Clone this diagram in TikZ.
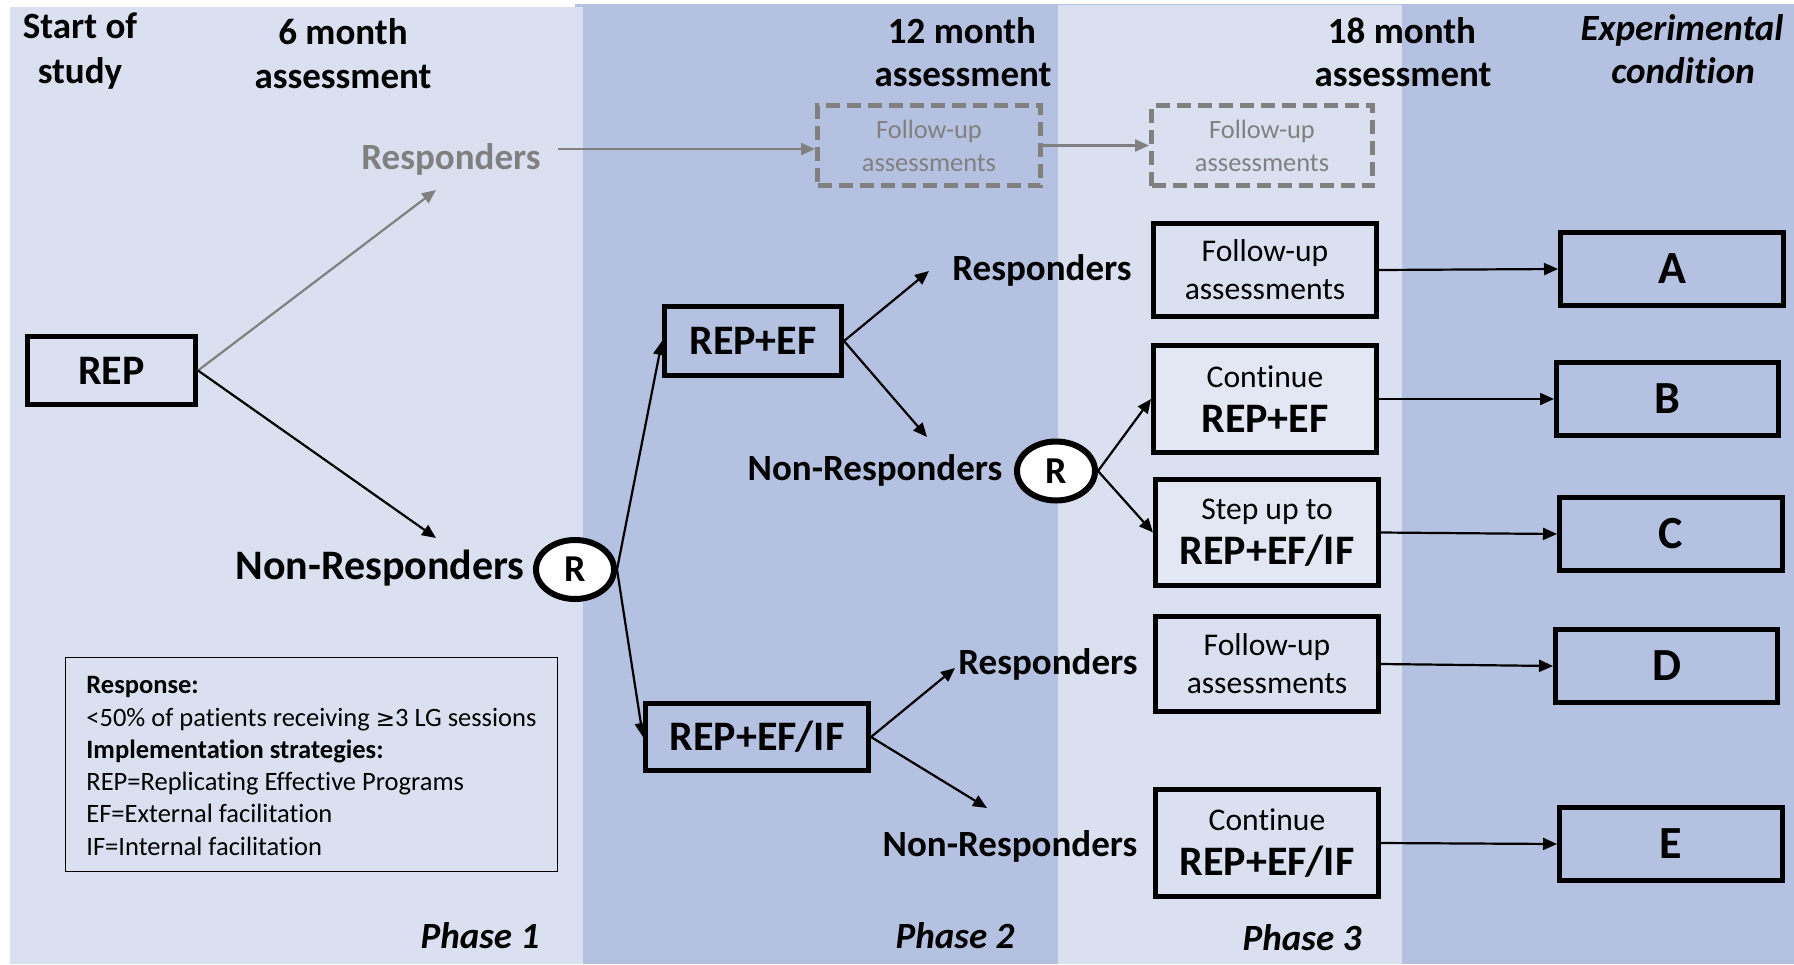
\documentclass[tikz,border=0pt]{standalone}
\usepackage{fontspec}
\setmainfont{Carlito}[Ligatures={NoCommon}]
\newfontfamily\symfont{DejaVu Sans}
\usetikzlibrary{shapes.geometric,arrows.meta}
\definecolor{lightbg}{RGB}{218,224,240}
\definecolor{darkbg}{RGB}{180,193,224}
\definecolor{boxlight}{RGB}{227,231,244}
\definecolor{greyc}{RGB}{128,128,128}
\newcommand{\fsz}[2]{\fontsize{#1}{#2}\selectfont}
\begin{document}
\begin{tikzpicture}[x=0.5pt,y=-0.5pt,
  box/.style={draw=black,line width=2.5pt,rectangle,inner sep=0pt,align=center},
  bigbox/.style={box,font=\bfseries\fsz{21}{24}},
  letterbox/.style={box,minimum width=111.5pt,minimum height=36.5pt,font=\bfseries\fsz{23}{26}},
  p3box/.style={box,minimum width=111.5pt,font=\fsz{15.8}{19}},
  dashbox/.style={draw=greyc,line width=2.5pt,dash pattern=on 7pt off 3.5pt,rectangle,inner sep=0pt,align=center,text=greyc,font=\fsz{13.2}{16.5},minimum width=111.5pt,minimum height=40pt},
  rnode/.style={ellipse,draw=black,line width=3pt,fill=white,minimum width=39pt,minimum height=29.5pt,inner sep=0pt,font=\bfseries\fsz{19}{22}},
  lbl/.style={anchor=base,font=\bfseries\fsz{18.5}{22},inner sep=0pt},
  hdr/.style={anchor=base,font=\bfseries\fsz{18.5}{22},inner sep=0pt},
  phase/.style={anchor=base,font=\bfseries\itshape\fsz{18.5}{22},inner sep=0pt},
  conn/.style={draw=black,line width=1.1pt,-{Triangle[length=7pt,width=6pt]}},
  gconn/.style={draw=greyc,line width=1.1pt,-{Triangle[length=7pt,width=6pt]}},
]
\useasboundingbox (0,0) rectangle (1794,964);
\fill[white] (0,0) rectangle (1794,964);
\fill[darkbg] (575,4) rectangle (1794,964);
\fill[lightbg] (10,7) rectangle (583,964);
\fill[lightbg] (1058,5) rectangle (1402,964);

% headers
\node[hdr] (h1a) at (80,38) {Start of};
\node[hdr] (h1b) at (80,83) {study};
\node[hdr] (h2a) at (343,44) {6 month};
\node[hdr] (h2b) at (343,88) {assessment};
\node[hdr] (h3a) at (962,43) {12 month};
\node[hdr] (h3b) at (963,86) {assessment};
\node[hdr] (h4a) at (1402,43) {18 month};
\node[hdr] (h4b) at (1403,86) {assessment};
\node[phase] (h5a) at (1682,40) {Experimental};
\node[phase] (h5b) at (1683,83) {condition};

% phases
\node[phase] (ph1) at (480,948) {Phase 1};
\node[phase] (ph2) at (955,948) {Phase 2};
\node[phase] (ph3) at (1302,950) {Phase 3};

% boxes
\node[bigbox,minimum width=84pt,minimum height=34pt] (rep) at (111.5,370.5) {REP};
\node[bigbox,minimum width=88.5pt,minimum height=34.5pt] (repef) at (753,341) {REP+EF};
\node[bigbox,minimum width=111.5pt,minimum height=33.5pt] (repefif) at (757,737) {REP+EF/IF};
\node[dashbox] (d1) at (929,145.5) {Follow-up\\assessments};
\node[dashbox,minimum width=110.5pt] (d2) at (1262,145.5) {Follow-up\\assessments};
\node[p3box,minimum height=46.5pt] (fua) at (1265,270) {Follow-up\\assessments};
\node[p3box,minimum height=53.5pt,fill=boxlight,font=\fsz{15.8}{22.5}] (contb) at (1265,399) {Continue\\{\bfseries\fsz{21}{22.5}REP+EF}};
\node[p3box,minimum height=53pt,fill=boxlight,font=\fsz{15.8}{22.5}] (stepc) at (1267,532.5) {Step up to\\{\bfseries\fsz{21}{22.5}REP+EF/IF}};
\node[p3box,minimum height=47.5pt] (fud) at (1267,664) {Follow-up\\assessments};
\node[p3box,minimum height=53.5pt,font=\fsz{15.8}{22.5}] (conte) at (1267,843) {Continue\\{\bfseries\fsz{21}{22.5}REP+EF/IF}};

\node[letterbox] (ca) at (1672,269) {A};
\node[letterbox,minimum width=111pt] (cb) at (1667.5,399) {B};
\node[letterbox] (cc) at (1671,534) {C};
\node[letterbox,minimum width=111pt] (cd) at (1666.5,666) {D};
\node[letterbox] (ce) at (1671,844) {E};

% randomisation
\node[rnode] (r1) at (575,569.5) {R};
\node[rnode] (r2) at (1056,471) {R};

% labels
\node[lbl,text=greyc] (resp0) at (451,169) {Responders};
\node[lbl,font=\bfseries\fsz{21}{24}] (nr0) at (380,579) {Non-Responders};
\node[lbl] (resp1) at (1042,280) {Responders};
\node[lbl] (nr1) at (875,480) {Non-Responders};
\node[lbl] (resp2) at (1048,674) {Responders};
\node[lbl] (nr2) at (1010,856) {Non-Responders};

% legend
\node[draw=black,line width=0.8pt,rectangle,minimum width=246pt,minimum height=107pt,inner sep=0pt]
  (legend) at (311.5,764.5) {};
\node[anchor=west,align=left,inner sep=0pt,font=\fsz{13.25}{16.15}] (legtext) at (86,766)
  {\textbf{Response:}\\<50\% of patients receiving {\symfont\fsz{11.5}{16.15}≥}3 LG sessions\\\textbf{Implementation strategies:}\\REP=Replicating Effective Programs\\EF=External facilitation\\IF=Internal facilitation};

% arrow end points
\coordinate (t0) at (436,190);
\coordinate (t1) at (436,538);
\coordinate (t3) at (929,271);
\coordinate (t4) at (927,437);
\coordinate (t5) at (955,668);
\coordinate (t6) at (987,808);
\coordinate (gs) at (558,149);

\draw[gconn] (rep.east) -- (t0);
\draw[conn] (rep.east) -- (t1);
\draw[gconn] (gs) -- (gs -| d1.west);
\draw[gconn] (d1.east) -- (d2.west);
\draw[conn] (r1.east) -- (repef.west);
\draw[conn] (r1.east) -- (repefif.west);
\draw[conn] (repef.east) -- (t3);
\draw[conn] (repef.east) -- (t4);
\draw[conn] (repefif.east) -- (t5);
\draw[conn] (repefif.east) -- (t6);
\draw[conn] (r2.east) -- (contb.west);
\draw[conn] (r2.east) -- (stepc.west);
\draw[conn] (fua.east) -- (ca.west);
\draw[conn] (contb.east) -- (cb.west);
\draw[conn] (stepc.east) -- (cc.west);
\draw[conn] (fud.east) -- (cd.west);
\draw[conn] (conte.east) -- (ce.west);
\end{tikzpicture}
\end{document}
